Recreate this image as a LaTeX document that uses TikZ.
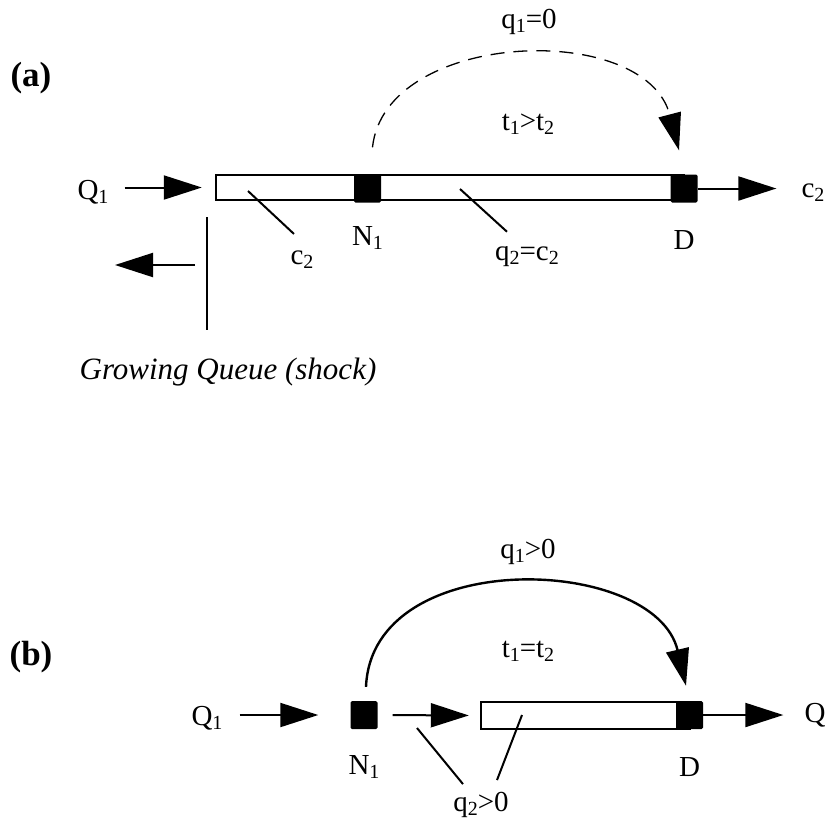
\documentclass[tikz,border=0pt]{standalone}
\usepackage{fontspec}
\setmainfont{Liberation Serif}
\usepackage{tikz}
\usetikzlibrary{
    arrows.meta,
    positioning,
    calc
}
\newcommand{\qs}[1]{\raisebox{-4pt}{\fontsize{20}{22}\selectfont #1}}
\tikzset{
    qbar/.style={
        rectangle, draw=black, line width=2.4pt, fill=white, inner sep=0pt
    },
    qnode/.style={
        rectangle, fill=black, rounded corners=1.5pt, minimum width=27pt,
        minimum height=28pt, inner sep=0pt
    },
    qlab/.style={inner sep=0pt, font=\fontsize{29}{32}\selectfont},
    qtag/.style={inner sep=0pt, font=\fontsize{35}{40}\selectfont\bfseries},
    qarr/.style={-{Triangle[length=38pt, width=24pt]}, line width=2pt},
    qarc/.style={-{Triangle[length=37pt, width=23pt]}, line width=2.4pt},
    qlead/.style={line width=2pt},
}

\begin{document}
\begin{tikzpicture}[x=1pt, y=-1pt]
    \useasboundingbox (0,0) rectangle (827,823);

    % ── (a) growing queue ────────────────────────────────
    \node [qtag] (tagA) at (31,78) {(a)};

    \node [qbar, minimum width=468pt, minimum height=25pt] (barA) at (450,187.5) {};
    \node [qnode] (nA) at (367.5,188.5) {};
    \node [qnode] (dA) at (684,188.5) {};

    \node [qlab] (q1A) at (93,192) {Q\qs{1}};
    \node [qlab] (c2R) at (813,193) {c\qs{2}};
    \node [qlab, below=24pt of nA] (n1A) {N\qs{1}};
    \node [qlab, below=28pt of dA] (dlA) {D};
    \node [qlab] (c2A) at (302,260) {c\qs{2}};
    \node [qlab] (q2A) at (527,257) {q\qs{2}=c\qs{2}};
    \node [qlab] (q1zero) at (529,22) {q\qs{1}=0};
    \node [qlab] (tgt) at (528,124) {t\qs{1}>t\qs{2}};

    \draw [qarr, shorten <=16pt, shorten >=13pt] (q1A.east |- barA.west) -- (barA.west);
    \draw [qarr, shorten >=25pt] (dA.east) -- (dA.east -| c2R.west);

    \draw [qarc, dash pattern=on 14pt off 9pt, line width=1.3pt]
        ($(nA.north)+(5,-27)$) .. controls (385,30) and (645,20) .. ($(dA.north)+(-5,-24)$);

    % leader lines
    \coordinate (c2Apt) at (248,191);
    \coordinate (q2Apt) at (460,189);
    \draw [qlead] (c2Apt) -- ($(c2A.north)+(-8,-17)$);
    \draw [qlead] (q2Apt) -- ($(q2A.north)+(-20,-15)$);

    % shock front
    \coordinate (shkTop) at (207,217);
    \coordinate (shkBot) at (207,330);
    \coordinate (shkMid) at (207,265);
    \draw [qlead] (shkTop) -- (shkBot);
    \draw [qarr, shorten <=12pt] (shkMid) -- ++(-92,0);
    \node [qlab, font=\fontsize{31}{36}\selectfont\itshape] (shkLbl) at (228,372)
        {Growing Queue (shock)};

    % ── (b) queue at the diverge ─────────────────────────
    \node [qtag] (tagB) at (31,657) {(b)};

    \node [qnode] (nB) at (364,715) {};
    \node [qbar, minimum width=209pt, minimum height=27pt] (barB) at (585.5,715.5) {};
    \node [qnode] (dB) at (689.5,715) {};

    \node [qlab] (q1B) at (207,718) {Q\qs{1}};
    \node [qlab] (qB) at (815,715) {Q};
    \node [qlab, below=26pt of nB] (n1B) {N\qs{1}};
    \node [qlab, below=28pt of dB] (dlB) {D};
    \node [qlab] (q2B) at (481,805) {q\qs{2}>0};
    \node [qlab] (q1pos) at (528,552) {q\qs{1}>0};
    \node [qlab] (teq) at (528,651) {t\qs{1}=t\qs{2}};

    \draw [qarr, shorten <=17pt, shorten >=32pt] (q1B.east |- nB.west) -- (nB.west);
    \draw [qarr, shorten <=15pt, shorten >=11pt] (nB.east) -- (barB.west);
    \draw [qarr, shorten >=21pt] (dB.east) -- (dB.east -| qB.west);

    \draw [qarc]
        ($(nB.north)+(2,-14)$) .. controls (372,545) and (655,555) .. ($(dB.north)+(-3.5,-15)$);

    % leader lines
    \coordinate (q2Bpt1) at (417,728);
    \coordinate (q2Bpt2) at (522,715);
    \draw [qlead] (q2Bpt1) -- ($(q2B.north)+(-18,-8)$);
    \draw [qlead] (q2Bpt2) -- ($(q2B.north)+(16,-12)$);

\end{tikzpicture}
\end{document}
